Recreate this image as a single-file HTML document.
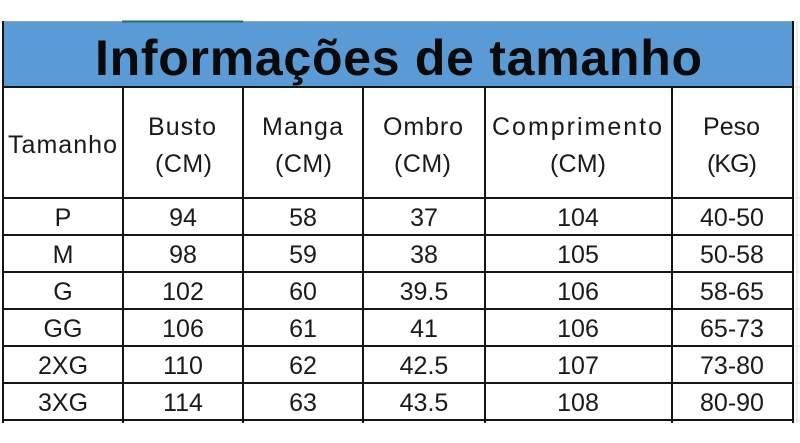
<!DOCTYPE html>
<html>
<head>
<meta charset="utf-8">
<style>
  html, body { margin:0; padding:0; background:#ffffff; }
  body { width:800px; height:443px; overflow:hidden; }
  svg { display:block; }
  .h { font-family:"Liberation Sans", Arial, sans-serif; font-size:25px; fill:#1a1a1a; }
  .d { font-family:"Liberation Sans", Arial, sans-serif; font-size:25px; fill:#1a1a1a; text-anchor:middle; }
</style>
</head>
<body>
<svg width="800" height="443" viewBox="0 0 800 443" xmlns="http://www.w3.org/2000/svg">
  <rect x="0" y="0" width="800" height="443" fill="#ffffff"/>
  <!-- excel gridline fragments on right -->
  <line x1="797" y1="21" x2="797" y2="423" stroke="#d8d8d8" stroke-width="1"/>
  <g stroke="#e0e0e0" stroke-width="1">
    <line x1="794" y1="87" x2="800" y2="87"/>
    <line x1="794" y1="198" x2="800" y2="198"/>
    <line x1="794" y1="235" x2="800" y2="235"/>
    <line x1="794" y1="272" x2="800" y2="272"/>
    <line x1="794" y1="309" x2="800" y2="309"/>
    <line x1="794" y1="346" x2="800" y2="346"/>
    <line x1="794" y1="383" x2="800" y2="383"/>
    <line x1="794" y1="420" x2="800" y2="420"/>
  </g>

  <!-- header blue band -->
  <rect x="3" y="22" width="790" height="65" fill="#5b9bd5"/>
  <line x1="3" y1="21.5" x2="793" y2="21.5" stroke="#9aa3ab" stroke-width="1"/>
  <line x1="122" y1="21.5" x2="243" y2="21.5" stroke="#1f6f5f" stroke-width="2"/>

  <text x="95" y="75" textLength="607" lengthAdjust="spacing" font-family="Liberation Sans, Arial, sans-serif" font-weight="bold" font-size="50" fill="#0a0a0a">Informações de tamanho</text>

  <!-- grid lines -->
  <g stroke="#151515" stroke-width="2">
    <line x1="3" y1="21" x2="3" y2="423"/>
    <line x1="793" y1="21" x2="793" y2="423"/>
    <line x1="123" y1="87" x2="123" y2="423"/>
    <line x1="243" y1="87" x2="243" y2="423"/>
    <line x1="363" y1="87" x2="363" y2="423"/>
    <line x1="485" y1="87" x2="485" y2="423"/>
    <line x1="672" y1="87" x2="672" y2="423"/>

    <line x1="3" y1="87" x2="793" y2="87"/>
    <line x1="3" y1="198" x2="793" y2="198"/>
    <line x1="3" y1="235" x2="793" y2="235"/>
    <line x1="3" y1="272" x2="793" y2="272"/>
    <line x1="3" y1="309" x2="793" y2="309"/>
    <line x1="3" y1="346" x2="793" y2="346"/>
    <line x1="3" y1="383" x2="793" y2="383"/>
    <line x1="3" y1="420" x2="793" y2="420"/>
  </g>

  <!-- header text -->
  <text class="h" x="8" y="153" textLength="109" lengthAdjust="spacing">Tamanho</text>
  <text class="h" x="148" y="135" textLength="68" lengthAdjust="spacing">Busto</text>
  <text class="h" x="155" y="172" textLength="57" lengthAdjust="spacing">(CM)</text>
  <text class="h" x="262" y="135" textLength="81" lengthAdjust="spacing">Manga</text>
  <text class="h" x="275" y="172" textLength="57" lengthAdjust="spacing">(CM)</text>
  <text class="h" x="383" y="135" textLength="80" lengthAdjust="spacing">Ombro</text>
  <text class="h" x="394" y="172" textLength="57" lengthAdjust="spacing">(CM)</text>
  <text class="h" x="492" y="135" textLength="170" lengthAdjust="spacing">Comprimento</text>
  <text class="h" x="550" y="172" textLength="56" lengthAdjust="spacing">(CM)</text>
  <text class="h" x="703" y="135" textLength="57" lengthAdjust="spacing">Peso</text>
  <text class="h" x="707" y="172" textLength="50" lengthAdjust="spacing">(KG)</text>

  <!-- data -->
  <g class="d">
    <text class="d" x="63" y="226">P</text>
    <text class="d" x="183" y="226">94</text>
    <text class="d" x="303" y="226">58</text>
    <text class="d" x="424" y="226">37</text>
    <text class="d" x="578" y="226">104</text>
    <text class="d" x="732" y="226">40-50</text>

    <text class="d" x="63" y="263">M</text>
    <text class="d" x="183" y="263">98</text>
    <text class="d" x="303" y="263">59</text>
    <text class="d" x="424" y="263">38</text>
    <text class="d" x="578" y="263">105</text>
    <text class="d" x="732" y="263">50-58</text>

    <text class="d" x="63" y="300">G</text>
    <text class="d" x="183" y="300">102</text>
    <text class="d" x="303" y="300">60</text>
    <text class="d" x="424" y="300">39.5</text>
    <text class="d" x="578" y="300">106</text>
    <text class="d" x="732" y="300">58-65</text>

    <text class="d" x="63" y="337">GG</text>
    <text class="d" x="183" y="337">106</text>
    <text class="d" x="303" y="337">61</text>
    <text class="d" x="424" y="337">41</text>
    <text class="d" x="578" y="337">106</text>
    <text class="d" x="732" y="337">65-73</text>

    <text class="d" x="63" y="374">2XG</text>
    <text class="d" x="183" y="374">110</text>
    <text class="d" x="303" y="374">62</text>
    <text class="d" x="424" y="374">42.5</text>
    <text class="d" x="578" y="374">107</text>
    <text class="d" x="732" y="374">73-80</text>

    <text class="d" x="63" y="411">3XG</text>
    <text class="d" x="183" y="411">114</text>
    <text class="d" x="303" y="411">63</text>
    <text class="d" x="424" y="411">43.5</text>
    <text class="d" x="578" y="411">108</text>
    <text class="d" x="732" y="411">80-90</text>
  </g>
</svg>
</body>
</html>
